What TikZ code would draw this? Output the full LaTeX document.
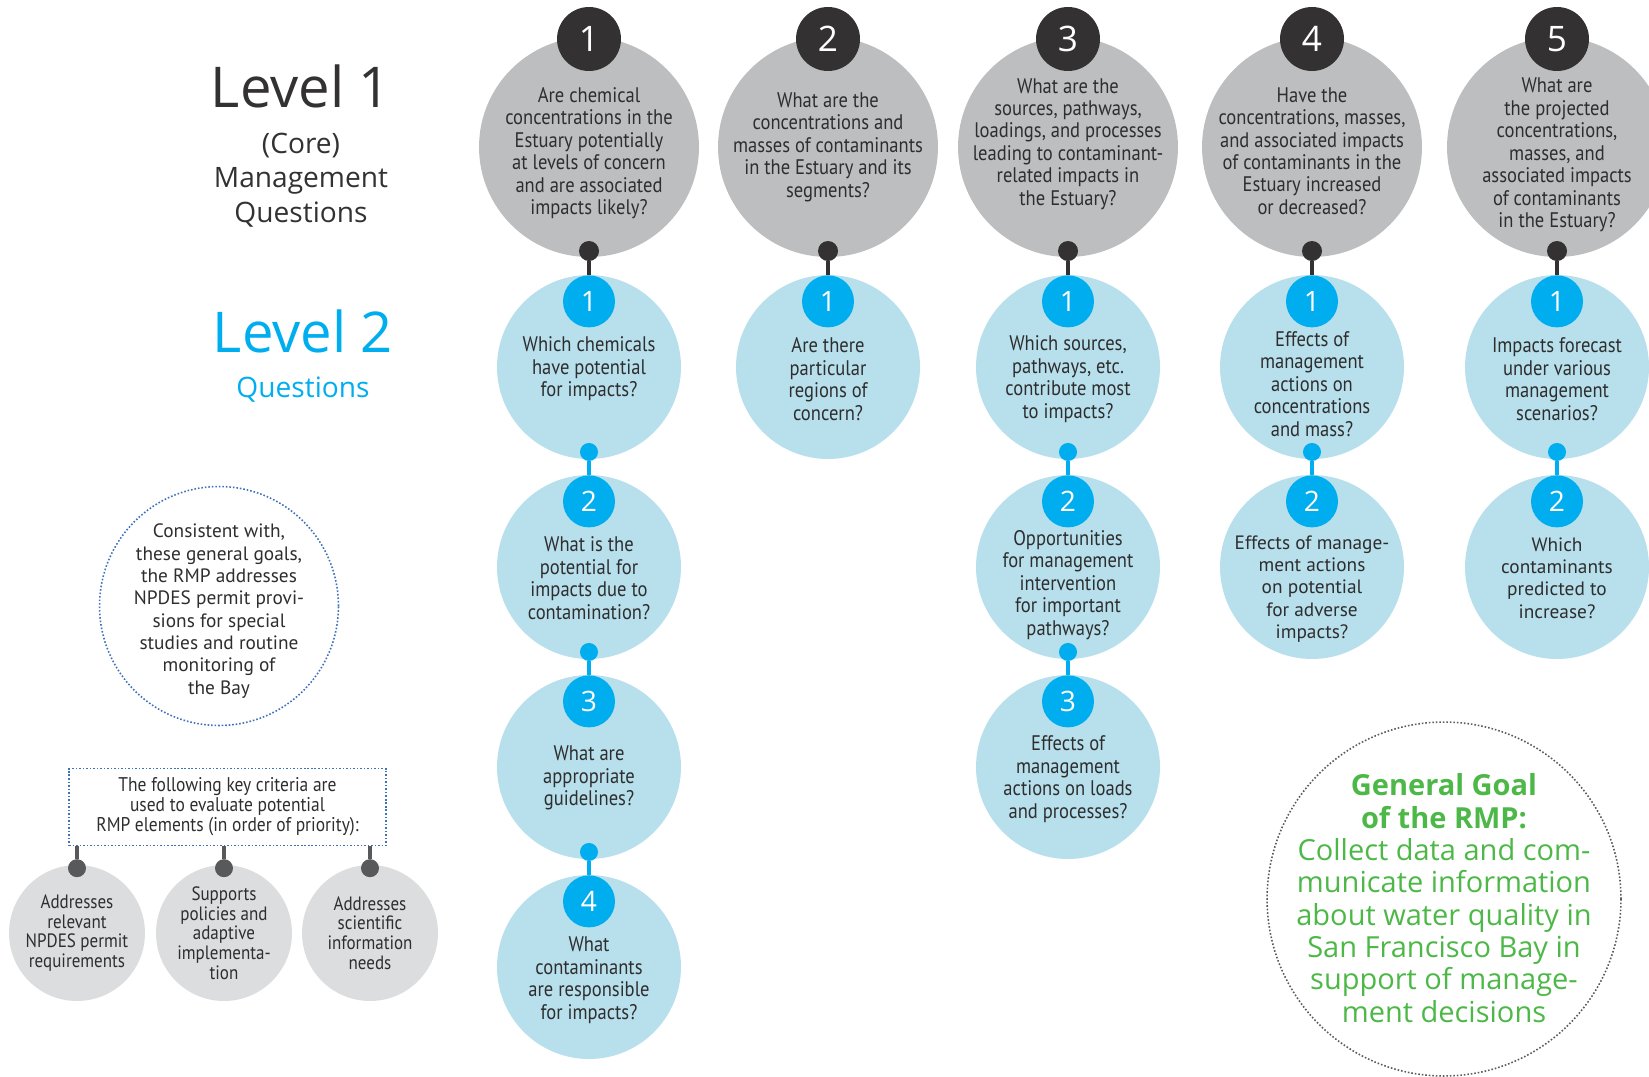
\documentclass[tikz,border=0pt]{standalone}
\usepackage{fontspec}
\setmainfont{PT Sans}
\newfontfamily\condfont[FakeStretch=0.88]{PT Sans}
\newfontfamily\headfont{Open Sans}
\usepackage{xcolor}
\definecolor{rmpgray}{HTML}{BDBEC0}
\definecolor{rmpdark}{HTML}{333132}
\definecolor{rmplight}{HTML}{B7DFEC}
\definecolor{rmpblue}{HTML}{00AEEF}
\definecolor{rmpsoft}{HTML}{DCDDDE}
\definecolor{rmppin}{HTML}{58595B}
\definecolor{rmpgreen}{HTML}{4DB848}
\definecolor{rmpdots}{HTML}{3D72B8}
\definecolor{rmptext}{HTML}{2E2E2E}
\usepackage{tikz}
\usetikzlibrary{positioning, calc}

\begin{document}
\begin{tikzpicture}[
  x=0.02cm, y=-0.02cm,
  corecirc/.style={circle, fill=rmpgray, minimum size=4.4cm,
    inner sep=0pt, outer sep=0pt},
  corenum/.style={circle, fill=rmpdark, minimum size=1.28cm,
    inner sep=0pt, text=white, font=\headfont\fontsize{20}{20}\selectfont},
  corepin/.style={circle, fill=rmpdark, minimum size=0.4cm, inner sep=0pt},
  subcirc/.style={circle, fill=rmplight, minimum size=3.68cm,
    inner sep=0pt, outer sep=0pt},
  subnum/.style={circle, fill=rmpblue, minimum size=1.04cm,
    inner sep=0pt, text=white, font=\headfont\fontsize{16}{16}\selectfont},
  subpin/.style={circle, fill=rmpblue, minimum size=0.36cm, inner sep=0pt},
  qtext/.style={align=center, inner sep=0pt, text=rmptext,
    font=\condfont\fontsize{12}{12.8}\selectfont},
  qwide/.style={align=center, inner sep=0pt, text=rmptext,
    font=\fontsize{11}{12.7}\selectfont},
  darkstem/.style={draw=rmpdark, line width=2.3pt},
  bluestem/.style={draw=rmpblue, line width=2.3pt},
  heading/.style={inner sep=0pt, font=\headfont\fontsize{32}{32}\selectfont},
  subhead/.style={align=center, inner sep=0pt,
    font=\headfont\fontsize{16}{19.6}\selectfont},
  dotline/.style={line width=0.9pt, dash pattern=on 0.9pt off 1.1pt},
  aimcirc/.style={circle, draw=rmpdots, dotline, minimum size=4.78cm,
    inner sep=0pt},
  critbox/.style={rectangle, draw=rmpdots, dotline, minimum width=6.34cm,
    minimum height=1.54cm, inner sep=0pt, align=center, text=rmptext,
    font=\condfont\fontsize{11.3}{11.4}\selectfont},
  critcirc/.style={circle, fill=rmpsoft, minimum size=2.72cm, inner sep=0pt,
    align=center, text=rmptext, font=\condfont\fontsize{11}{11.2}\selectfont},
  critpin/.style={circle, fill=rmppin, minimum size=0.36cm, inner sep=0pt},
  pinstem/.style={draw=rmppin, line width=2.3pt},
  goalcirc/.style={circle, draw=rmpdark!80, dotline, minimum size=7.08cm,
    inner sep=0pt},
  goaltext/.style={align=center, inner sep=0pt, text=rmpgreen,
    font=\headfont\fontsize{16.5}{18.4}\selectfont}
]
  \useasboundingbox (0,0) rectangle (1649,1076);

  % titles
  \node[heading, text=rmpdark, anchor=base] (lvl1) at (301,107) {Level 1};
  \node[subhead, text=rmpdark] (core) at (301,180)
    {(Core)\\Management\\Questions};
  \node[heading, text=rmpblue, anchor=base] (lvl2) at (303,352) {Level 2};
  \node[subhead, text=rmpblue, anchor=base] (lvl2q) at (303,397) {Questions};

  % level 1
  \node[corecirc] (q1) at (589,147) {};
  \node[corecirc] (q2) at (828,147) {};
  \node[corecirc] (q3) at (1068,147) {};
  \node[corecirc] (q4) at (1312,147) {};
  \node[corecirc] (q5) at (1557,147) {};
  \node[corenum] (n1) at (589,39) {1};
  \node[corenum] (n2) at (828,39) {2};
  \node[corenum] (n3) at (1068,39) {3};
  \node[corenum] (n4) at (1312,39) {4};
  \node[corenum] (n5) at (1557,39) {5};
  \node[qtext] (t1) at (589,153) {Are chemical\\concentrations in the\\Estuary potentially\\at levels of concern\\and are associated\\impacts likely?};
  \node[qtext] (t2) at (828,147) {What are the\\concentrations and\\masses of contaminants\\in the Estuary and its\\segments?};
  \node[qtext] (t3) at (1068,144) {What are the\\sources, pathways,\\loadings, and processes\\leading to contaminant-\\related impacts in\\the Estuary?};
  \node[qtext] (t4) at (1312,151) {Have the\\concentrations, masses,\\and associated impacts\\of contaminants in the\\Estuary increased\\or decreased?};
  \node[qtext] (t5) at (1557,155) {What are\\the projected\\concentrations,\\masses, and\\associated impacts\\of contaminants\\in the Estuary?};
  \node[corepin] (p1) at ([yshift=3.4pt]q1.south) {};
  \node[corepin] (p2) at ([yshift=3.4pt]q2.south) {};
  \node[corepin] (p3) at ([yshift=3.4pt]q3.south) {};
  \node[corepin] (p4) at ([yshift=3.4pt]q4.south) {};
  \node[corepin] (p5) at ([yshift=3.4pt]q5.south) {};

  % level 2
  \node[subcirc] (s11) at (589,367) {};
  \node[subcirc] (s12) at (589,567) {};
  \node[subcirc] (s13) at (589,767) {};
  \node[subcirc] (s14) at (589,967) {};
  \node[subcirc] (s21) at (828,367) {};
  \node[subcirc] (s31) at (1068,367) {};
  \node[subcirc] (s32) at (1068,567) {};
  \node[subcirc] (s33) at (1068,767) {};
  \node[subcirc] (s41) at (1312,367) {};
  \node[subcirc] (s42) at (1312,567) {};
  \node[subcirc] (s51) at (1557,367) {};
  \node[subcirc] (s52) at (1557,567) {};

  \node[subnum, anchor=north] (m11) at (s11.north) {1};
  \node[subnum, anchor=north] (m12) at (s12.north) {2};
  \node[subnum, anchor=north] (m13) at (s13.north) {3};
  \node[subnum, anchor=north] (m14) at (s14.north) {4};
  \node[subnum, anchor=north] (m21) at (s21.north) {1};
  \node[subnum, anchor=north] (m31) at (s31.north) {1};
  \node[subnum, anchor=north] (m32) at (s32.north) {2};
  \node[subnum, anchor=north] (m33) at (s33.north) {3};
  \node[subnum, anchor=north] (m41) at (s41.north) {1};
  \node[subnum, anchor=north] (m42) at (s42.north) {2};
  \node[subnum, anchor=north] (m51) at (s51.north) {1};
  \node[subnum, anchor=north] (m52) at (s52.north) {2};

  \node[qtext] (u11) at (589,369) {Which chemicals\\have potential\\for impacts?};
  \node[qtext] (u12) at (589,578) {What is the\\potential for\\impacts due to\\contamination?};
  \node[qtext] (u13) at (589,778) {What are\\appropriate\\guidelines?};
  \node[qtext] (u14) at (589,980) {What\\contaminants\\are responsible\\for impacts?};
  \node[qtext] (u21) at (828,379) {Are there\\particular\\regions of\\concern?};
  \node[qtext] (u31) at (1068,379) {Which sources,\\pathways, etc.\\contribute most\\to impacts?};
  \node[qtext] (u32) at (1068,585) {Opportunities\\for management\\intervention\\for important\\pathways?};
  \node[qtext] (u33) at (1068,779) {Effects of\\management\\actions on loads\\and processes?};
  \node[qtext] (u41) at (1312,384) {Effects of\\management\\actions on\\concentrations\\and mass?};
  \node[qwide] (u42) at (1312,589) {Effects of manage-\\ment actions\\on potential\\for adverse\\impacts?};
  \node[qtext] (u51) at (1557,379) {Impacts forecast\\under various\\management\\scenarios?};
  \node[qwide] (u52) at (1557,578) {Which\\contaminants\\predicted to\\increase?};

  \node[subpin] (r11) at ([yshift=4pt]s11.south) {};
  \node[subpin] (r12) at ([yshift=4pt]s12.south) {};
  \node[subpin] (r13) at ([yshift=4pt]s13.south) {};
  \node[subpin] (r31) at ([yshift=4pt]s31.south) {};
  \node[subpin] (r32) at ([yshift=4pt]s32.south) {};
  \node[subpin] (r41) at ([yshift=4pt]s41.south) {};
  \node[subpin] (r51) at ([yshift=4pt]s51.south) {};

  \draw[darkstem] (p1) -- (m11);
  \draw[darkstem] (p2) -- (m21);
  \draw[darkstem] (p3) -- (m31);
  \draw[darkstem] (p4) -- (m41);
  \draw[darkstem] (p5) -- (m51);
  \draw[bluestem] (r11) -- (m12);
  \draw[bluestem] (r12) -- (m13);
  \draw[bluestem] (r13) -- (m14);
  \draw[bluestem] (r31) -- (m32);
  \draw[bluestem] (r32) -- (m33);
  \draw[bluestem] (r41) -- (m42);
  \draw[bluestem] (r51) -- (m52);

  % goals and criteria
  \node[aimcirc] (aim) at (219,606) {};
  \node[qwide] (aimtxt) at (219,611) {Consistent with,\\these general goals,\\the RMP addresses\\NPDES permit provi-\\sions for special\\studies and routine\\monitoring of\\the Bay};
  \node[critbox] (crit) at (227.5,807) {The following key criteria are\\used to evaluate potential\\RMP elements (in order of priority):};
  \node[critcirc] (k1) at (77,933) {Addresses\\relevant\\NPDES permit\\requirements};
  \node[critcirc] (k2) at (224,933) {Supports\\policies and\\adaptive\\implementa-\\tion};
  \node[critcirc] (k3) at (370,933) {Addresses\\scientific\\information\\needs};
  \node[critpin] (kp1) at ([yshift=-2pt]k1.north) {};
  \node[critpin] (kp2) at ([yshift=-2pt]k2.north) {};
  \node[critpin] (kp3) at ([yshift=-2pt]k3.north) {};
  \draw[pinstem] (crit.south -| kp1) -- (kp1);
  \draw[pinstem] (crit.south -| kp2) -- (kp2);
  \draw[pinstem] (crit.south -| kp3) -- (kp3);

  \node[goalcirc] (goal) at (1444,899) {};
  \node[goaltext] (goaltxt) at (1444,898) {\textbf{General Goal}\\\textbf{of the RMP:}\\Collect data and com-\\municate information\\about water quality in\\San Francisco Bay in\\support of manage-\\ment decisions};
\end{tikzpicture}
\end{document}
